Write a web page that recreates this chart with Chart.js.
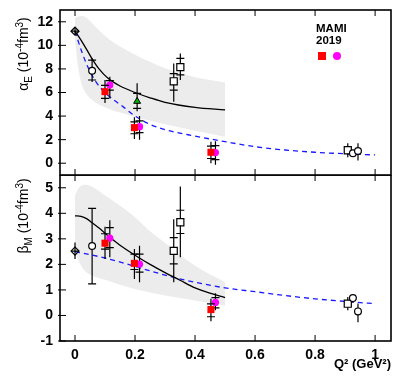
<!DOCTYPE html>
<html>
<head>
<meta charset="utf-8">
<script src="https://cdn.jsdelivr.net/npm/chart.js@4.4.1/dist/chart.umd.min.js"></script>
<style>
  body { margin: 0; background: #fff; }
  #wrap { position: relative; width: 400px; height: 382px; font-family: "Liberation Sans", Arial, sans-serif; color: #000; }
  canvas { position: absolute; left: 0; }
  .ytitle { position: absolute; white-space: nowrap; font-size: 14px; transform: translate(-50%, -50%) rotate(-90deg); }
  .ytitle sub, .ytitle sup { font-size: 10px; }
  #mami { position: absolute; left: 316px; top: 22px; font-weight: bold; font-size: 11.5px; line-height: 12px; }
  .key { position: absolute; }
</style>
</head>
<body>
<div id="wrap">
  <canvas id="alpha" width="400" height="176" style="top:0"></canvas>
  <canvas id="beta" width="400" height="207" style="top:175px"></canvas>
  <div class="ytitle" style="left:24px; top:54px">α<sub>E</sub> (10<sup>-4</sup>fm<sup>3</sup>)</div>
  <div class="ytitle" style="left:24px; top:216px">β<sub>M</sub> (10<sup>-4</sup>fm<sup>3</sup>)</div>
  <div id="mami">MAMI<br>2019</div>
  <div class="key" style="left:318px; top:52px; width:8px; height:8px; background:#ff0000"></div>
  <div class="key" style="left:333px; top:52px; width:8px; height:8px; border-radius:50%; background:#ff00ff"></div>
</div>
<script>
// tick values
const q2Ticks = [0, 0.2, 0.4, 0.6, 0.8, 1];
const alphaTicks = [0, 2, 4, 6, 8, 10, 12];
const betaTicks = [-1, 0, 1, 2, 3, 4, 5];

// grey band, same Q2 grid in both panels
const bandQ2 = [0, 0.01, 0.02, 0.035, 0.06, 0.1, 0.15, 0.2, 0.25, 0.3, 0.4, 0.5];
const alphaBandHi = [12.3, 12.45, 12.5, 12.4, 11.8, 10.8, 9.9, 9.2, 8.6, 8.05, 7.3, 6.85];
const alphaBandLo = [10.5, 8.2, 6.9, 6.0, 5.3, 4.75, 4.3, 3.95, 3.6, 3.3, 2.75, 2.25];
const betaBandHi = [4.7, 4.95, 5.08, 5.12, 5.02, 4.7, 4.3, 3.85, 3.3, 2.85, 1.95, 1.3];
const betaBandLo = [2.6, 2.2, 1.95, 1.72, 1.55, 1.4, 1.2, 1.04, 0.9, 0.78, 0.59, 0.39];

// solid black curves
const alphaSolidQ2 = [0, 0.02, 0.04, 0.056, 0.08, 0.11, 0.15, 0.2, 0.25, 0.3, 0.4, 0.5];
const alphaSolid = [11.2, 10.45, 9.6, 8.9, 8.0, 7.2, 6.55, 6.0, 5.55, 5.17, 4.74, 4.52];
const betaSolidQ2 = [0, 0.02, 0.04, 0.056, 0.08, 0.11, 0.15, 0.2, 0.25, 0.3, 0.35, 0.4, 0.45, 0.5];
const betaSolid = [3.9, 3.88, 3.78, 3.64, 3.42, 3.12, 2.75, 2.36, 2.0, 1.68, 1.38, 1.08, 0.87, 0.7];

// dashed blue curves
const alphaDashQ2 = [0, 0.022, 0.044, 0.07, 0.1, 0.13, 0.16, 0.2, 0.25, 0.3, 0.4, 0.5, 0.6, 0.7, 0.8, 0.9, 1.0];
const alphaDash = [11.2, 9.5, 8.1, 6.9, 6.0, 5.35, 4.8, 4.0, 3.3, 2.85, 2.3, 1.83, 1.4, 1.12, 0.93, 0.8, 0.7];
const betaDashQ2 = [0, 0.1, 0.2, 0.3, 0.4, 0.5, 0.6, 0.7, 0.8, 0.9, 1.0];
const betaDash = [2.5, 2.25, 1.92, 1.58, 1.3, 1.08, 0.93, 0.78, 0.65, 0.55, 0.46];

// measured points: Q2, value, [lo, hi] total error, inner caps
const diamondQ2 = [0];
const circleQ2 = [0.057, 0.926, 0.943];
const squareQ2 = [0.329, 0.351, 0.909];
const triangleQ2 = [0.207];
const mamiSqQ2 = [0.1, 0.198, 0.453];
const mamiDotQ2 = [0.116, 0.215, 0.468];

const diamondAlpha = [11.2], diamondAlphaErr = [[10.9, 11.5]], diamondAlphaCaps = [[11.2]];
const circleAlpha = [7.85, 0.85, 1.04];
const circleAlphaErr = [[6.9, 8.9], [0.6, 1.1], [0.22, 1.7]];
const circleAlphaCaps = [[7.06, 8.75], [], []];
const squareAlpha = [6.95, 8.15, 1.1];
const squareAlphaErr = [[5.22, 8.47], [7.06, 9.3], [0.5, 1.7]];
const squareAlphaCaps = [[6.2, 7.6], [7.5, 8.9], []];
const triangleAlpha = [5.25], triangleAlphaErr = [[4.4, 6.78]], triangleAlphaCaps = [[4.66, 5.93]];
const mamiSqAlpha = [6.07, 3.02, 0.93];
const mamiSqAlphaErr = [[5.1, 7.06], [2.06, 3.9], [0.0, 1.83]];
const mamiSqAlphaCaps = [[5.5, 6.6], [2.5, 3.5], [0.4, 1.45]];
const mamiDotAlpha = [6.63, 3.1, 0.9];
const mamiDotAlphaErr = [[5.5, 7.34], [2.0, 4.0], [-0.14, 1.86]];
const mamiDotAlphaCaps = [[6.2, 7.0], [2.6, 3.6], [0.3, 1.5]];

const diamondBeta = [2.52], diamondBetaErr = [[2.21, 2.86]], diamondBetaCaps = [[2.52]];
const circleBeta = [2.72, 0.68, 0.16];
const circleBetaErr = [[1.24, 4.19], [0.5, 0.8], [-0.27, 0.47]];
const circleBetaCaps = [[1.24, 4.19], [], []];
const squareBeta = [2.53, 3.65, 0.46];
const squareBetaErr = [[1.3, 3.77], [2.28, 5.05], [0.2, 0.72]];
const squareBetaCaps = [[2.02, 3.05], [3.21, 4.12], []];
const mamiSqBeta = [2.83, 2.04, 0.23];
const mamiSqBetaErr = [[2.21, 3.47], [1.43, 2.6], [-0.23, 0.65]];
const mamiSqBetaCaps = [[2.6, 3.2], [1.8, 2.4], [-0.05, 0.45]];
const mamiDotBeta = [3.03, 2.01, 0.51];
const mamiDotBetaErr = [[2.28, 3.73], [1.3, 2.73], [0.2, 0.87]];
const mamiDotBetaCaps = [[2.66, 3.44], [1.7, 2.4], [0.3, 0.7]];

const FONT = '"Liberation Sans", Arial, sans-serif';
const xy = (xs, ys) => xs.map((x, i) => ({ x, y: ys[i] }));

function curve(q2, vals, color, dash) {
  return { data: xy(q2, vals), borderColor: color, borderWidth: 1.3, borderDash: dash || [],
    pointRadius: 0, fill: false, cubicInterpolationMode: 'monotone', order: 5 };
}

function band(q2, hi, lo) {
  return [
    { data: xy(q2, hi), borderWidth: 0, pointRadius: 0, fill: '+1', backgroundColor: '#ececec',
      cubicInterpolationMode: 'monotone', order: 10 },
    { data: xy(q2, lo), borderWidth: 0, pointRadius: 0, fill: false,
      cubicInterpolationMode: 'monotone', order: 10 }
  ];
}

function points(q2, vals, err, caps, style) {
  return Object.assign({ data: xy(q2, vals), showLine: false, errors: err, caps: caps, order: 0,
    borderColor: '#000', borderWidth: 1.2 }, style);
}

const diamondStyle = { pointStyle: 'rectRot', pointRadius: 4, backgroundColor: 'rgba(0,0,0,0)' };
const circleStyle = { pointStyle: 'circle', pointRadius: 3.4, backgroundColor: '#fff' };
const squareStyle = { pointStyle: 'rect', pointRadius: 5, backgroundColor: '#fff' };
const triangleStyle = { pointStyle: 'triangle', pointRadius: 4, backgroundColor: '#00b000', borderWidth: 1 };
const mamiSqStyle = { pointStyle: 'rect', pointRadius: 5, backgroundColor: '#ff0000', borderColor: '#ff0000', borderWidth: 0 };
const mamiDotStyle = { pointStyle: 'circle', pointRadius: 3.6, backgroundColor: '#ff00ff', borderColor: '#ff00ff', borderWidth: 0 };

// box around the panel with inward tick marks
function drawFrame(chart) {
  const a = chart.chartArea, ctx = chart.ctx;
  const xs = chart.scales.x, ys = chart.scales.y;
  const yTicks = chart.config.options.frameTicks;
  ctx.save();
  ctx.strokeStyle = '#000';
  ctx.lineWidth = 1;
  ctx.beginPath();
  q2Ticks.forEach(v => {
    const px = xs.getPixelForValue(v);
    ctx.moveTo(px, a.bottom);
    ctx.lineTo(px, a.bottom - 6);
    ctx.moveTo(px, a.top);
    ctx.lineTo(px, a.top + 6);
  });
  yTicks.forEach(v => {
    const py = ys.getPixelForValue(v);
    ctx.moveTo(a.left - 2, py);
    ctx.lineTo(a.left + 6, py);
  });
  ctx.stroke();
  ctx.lineWidth = 1.6;
  ctx.strokeRect(a.left, a.top, a.right - a.left, a.bottom - a.top);
  ctx.restore();
}

// error bars under each marker set, then the panel box on top
const decor = {
  id: 'decor',
  beforeDatasetDraw(chart, args) {
    const ds = chart.data.datasets[args.index];
    if (!ds.errors) return;
    const xs = chart.scales.x, ys = chart.scales.y, ctx = chart.ctx;
    ctx.save();
    ctx.strokeStyle = '#000';
    ctx.lineWidth = 1.2;
    ds.data.forEach((p, i) => {
      const px = xs.getPixelForValue(p.x);
      ctx.beginPath();
      ctx.moveTo(px, ys.getPixelForValue(ds.errors[i][0]));
      ctx.lineTo(px, ys.getPixelForValue(ds.errors[i][1]));
      (ds.caps[i] || []).forEach(c => {
        const py = ys.getPixelForValue(c);
        ctx.moveTo(px - 4, py);
        ctx.lineTo(px + 4, py);
      });
      ctx.stroke();
    });
    ctx.restore();
  },
  afterDatasetsDraw(chart) {
    drawFrame(chart);
  }
};

function noPad(s) {
  s.paddingTop = 0; s.paddingBottom = 0; s.paddingLeft = 0; s.paddingRight = 0;
}

function panel(id, datasets, yMin, yMax, yTicks, bottom) {
  return new Chart(document.getElementById(id), {
    type: 'line',
    data: { datasets: datasets },
    plugins: [decor],
    options: {
      responsive: false,
      animation: false,
      events: [],
      frameTicks: yTicks,
      layout: { autoPadding: false, padding: { top: bottom ? 0 : 10, right: 9, bottom: bottom ? 0 : 1, left: 0 } },
      plugins: {
        legend: { display: false },
        tooltip: { enabled: false }
      },
      scales: {
        x: {
          type: 'linear', min: -0.05, max: 1.053, display: bottom,
          grid: { display: false, drawTicks: false }, border: { display: false },
          afterBuildTicks: s => { s.ticks = q2Ticks.map(v => ({ value: v })); },
          afterFit: s => { noPad(s); if (bottom) s.height = 41; },
          ticks: { color: '#000', padding: 6, maxRotation: 0, font: { family: FONT, size: 14, weight: 'bold' },
            callback: v => String(v) },
          title: { display: bottom, text: 'Q² (GeV²)', align: 'end', color: '#000',
            padding: { top: 2, bottom: 10 }, font: { family: FONT, size: 13, weight: 'bold' } }
        },
        y: {
          min: yMin, max: yMax,
          grid: { display: false, drawTicks: false }, border: { display: false },
          afterBuildTicks: s => { s.ticks = yTicks.map(v => ({ value: v })); },
          afterFit: s => { noPad(s); s.width = 60; },
          ticks: { color: '#000', padding: 7, font: { family: FONT, size: 14, weight: 'bold' },
            callback: v => String(v) }
        }
      }
    }
  });
}

panel('alpha', [
  points(diamondQ2, diamondAlpha, diamondAlphaErr, diamondAlphaCaps, diamondStyle),
  points(circleQ2, circleAlpha, circleAlphaErr, circleAlphaCaps, circleStyle),
  points(squareQ2, squareAlpha, squareAlphaErr, squareAlphaCaps, squareStyle),
  points(triangleQ2, triangleAlpha, triangleAlphaErr, triangleAlphaCaps, triangleStyle),
  points(mamiSqQ2, mamiSqAlpha, mamiSqAlphaErr, mamiSqAlphaCaps, mamiSqStyle),
  points(mamiDotQ2, mamiDotAlpha, mamiDotAlphaErr, mamiDotAlphaCaps, mamiDotStyle),
  curve(alphaSolidQ2, alphaSolid, '#000'),
  curve(alphaDashQ2, alphaDash, '#1a1aff', [5, 4]),
  ...band(bandQ2, alphaBandHi, alphaBandLo)
], -1, 13, alphaTicks, false);

panel('beta', [
  points(diamondQ2, diamondBeta, diamondBetaErr, diamondBetaCaps, diamondStyle),
  points(circleQ2, circleBeta, circleBetaErr, circleBetaCaps, circleStyle),
  points(squareQ2, squareBeta, squareBetaErr, squareBetaCaps, squareStyle),
  points(mamiSqQ2, mamiSqBeta, mamiSqBetaErr, mamiSqBetaCaps, mamiSqStyle),
  points(mamiDotQ2, mamiDotBeta, mamiDotBetaErr, mamiDotBetaCaps, mamiDotStyle),
  curve(betaSolidQ2, betaSolid, '#000'),
  curve(betaDashQ2, betaDash, '#1a1aff', [5, 4]),
  ...band(bandQ2, betaBandHi, betaBandLo)
], -1, 5.5, betaTicks, true);
</script>
</body>
</html>
